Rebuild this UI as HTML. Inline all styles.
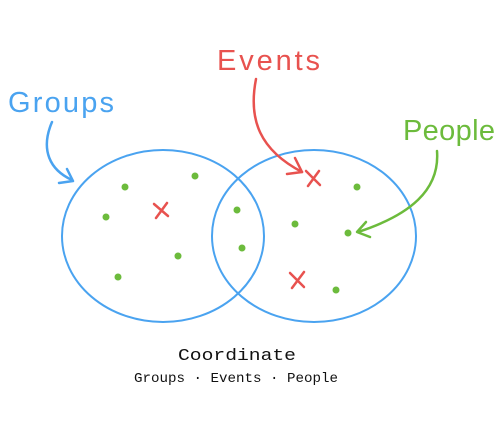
<html><body style="margin:0;background:#fff">
<svg width="501" height="423" viewBox="0 0 501 423" xmlns="http://www.w3.org/2000/svg">
<g fill="none" stroke-linecap="round" stroke-linejoin="round">
<ellipse cx="163" cy="236" rx="101" ry="86" stroke="#4aa3f0" stroke-width="2"/>
<ellipse cx="314" cy="236" rx="102" ry="86" stroke="#4aa3f0" stroke-width="2"/>
<path d="M52,122 C40,150 50,170 72,180" stroke="#4aa3f0" stroke-width="2.5"/>
<path d="M59,183 L73,181 L67,169" stroke="#4aa3f0" stroke-width="2.5"/>
<path d="M256,79 C248,120 260,150 302,172" stroke="#e8524f" stroke-width="2.5"/>
<path d="M287,174 L302,172 L295,158" stroke="#e8524f" stroke-width="2.5"/>
<path d="M437,151 C440,190 410,215 358,232" stroke="#6cbb3c" stroke-width="2.5"/>
<path d="M366,222 L357,232 L370,237" stroke="#6cbb3c" stroke-width="2.5"/>
<g stroke="#e8524f" stroke-width="2.5">
<path d="M154,204 L168,216 M167,203 L156,218"/>
<path d="M306,171 L320,185 M319,171 L308,186"/>
<path d="M290,273 L304,287 M304,272 L292,288"/>
</g>
</g>
<g fill="#6cbb3c">
<circle cx="125" cy="187" r="3.5"/><circle cx="195" cy="176" r="3.5"/><circle cx="106" cy="217" r="3.5"/>
<circle cx="178" cy="256" r="3.5"/><circle cx="118" cy="277" r="3.5"/><circle cx="237" cy="210" r="3.5"/>
<circle cx="242" cy="248" r="3.5"/><circle cx="295" cy="224" r="3.5"/><circle cx="357" cy="187" r="3.5"/>
<circle cx="348" cy="233" r="3.5"/><circle cx="336" cy="290" r="3.5"/>
</g>
<g font-family="Liberation Sans, sans-serif" font-size="29">
<text x="8" y="112" fill="#4aa3f0" textLength="106">Groups</text>
<text x="217" y="70" fill="#e8524f" textLength="103">Events</text>
<text x="403" y="140" fill="#6cbb3c" textLength="92">People</text>
</g>
<g font-family="Liberation Mono, monospace" fill="#111">
<text x="178" y="360" font-size="17" textLength="118" lengthAdjust="spacingAndGlyphs">Coordinate</text>
<text x="134" y="382" font-size="14" textLength="204" lengthAdjust="spacingAndGlyphs">Groups · Events · People</text>
</g>
</svg>
</body></html>
